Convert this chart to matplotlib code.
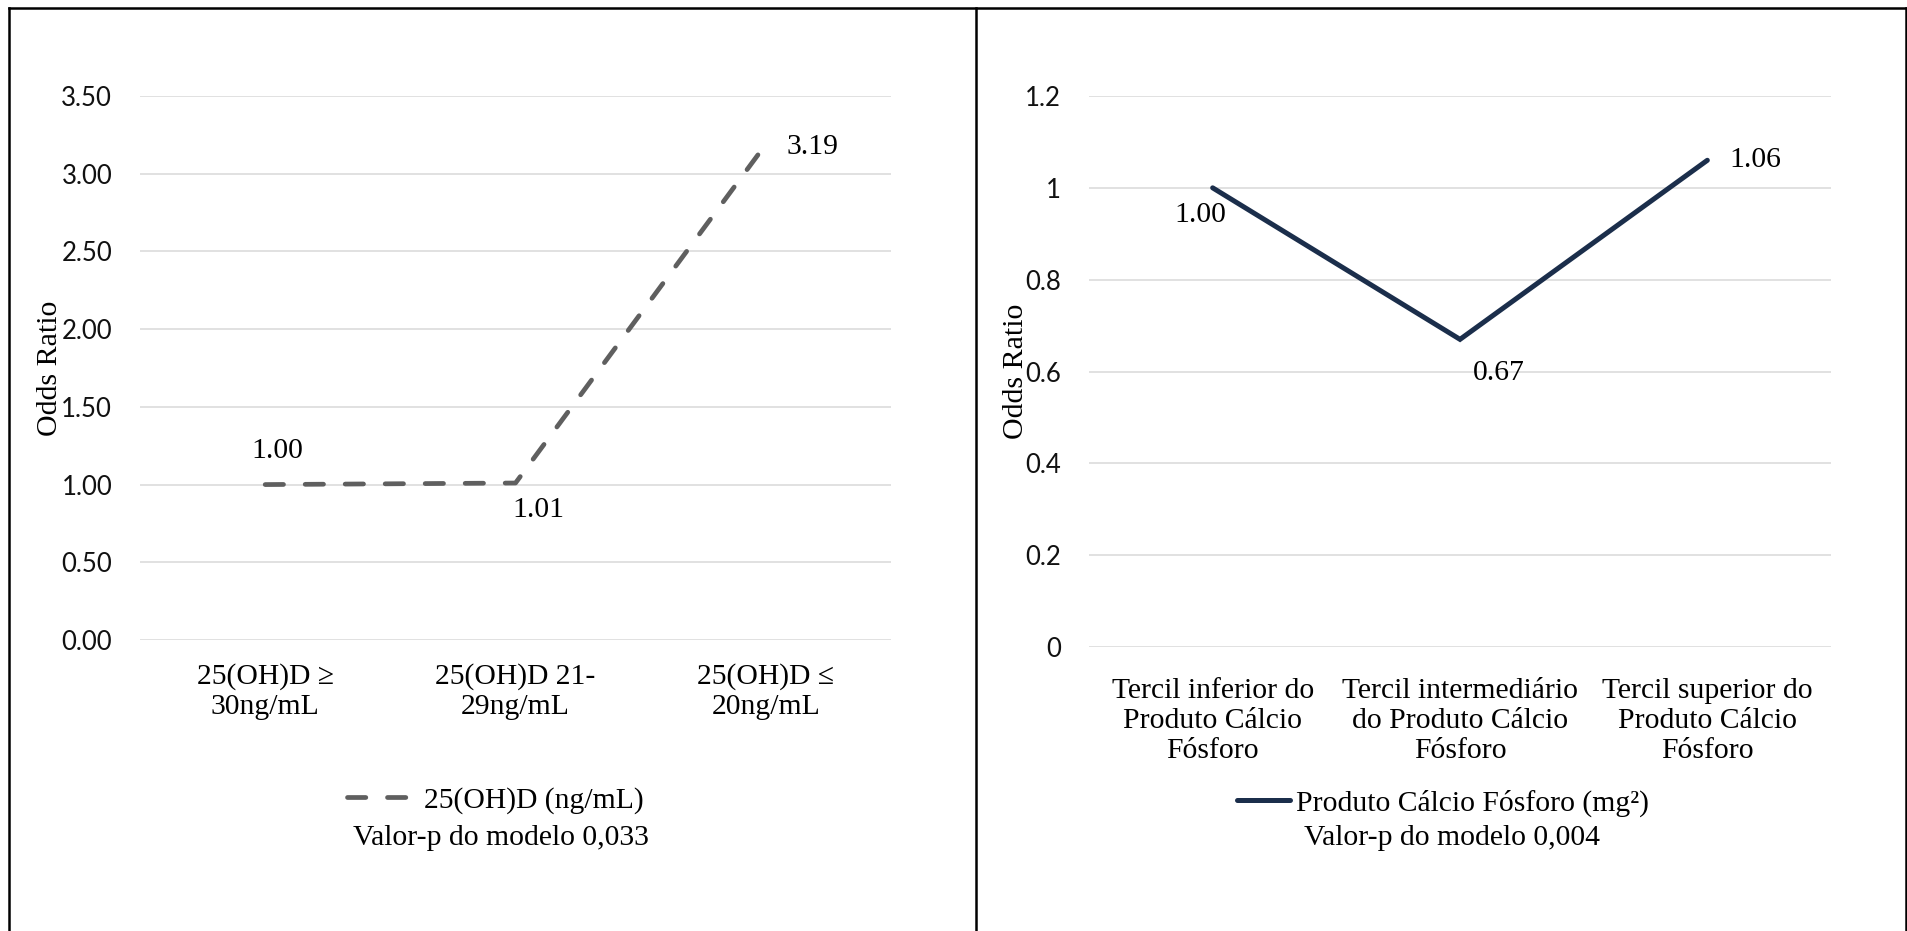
import matplotlib
matplotlib.use("Agg")
import matplotlib.pyplot as plt
from matplotlib.lines import Line2D
from matplotlib.ticker import FixedLocator, FuncFormatter

# ---------------- data ----------------
left_categories = ["25(OH)D \u2265\n30ng/mL", "25(OH)D 21-\n29ng/mL", "25(OH)D \u2264\n20ng/mL"]
left_values = [1.00, 1.01, 3.19]
left_labels = ["1.00", "1.01", "3.19"]
left_series = "25(OH)D (ng/mL)"
left_pvalue = "Valor-p do modelo 0,033"
left_yticks = [0.0, 0.5, 1.0, 1.5, 2.0, 2.5, 3.0, 3.5]

right_categories = ["Tercil inferior do\nProduto C\u00e1lcio\nF\u00f3sforo",
                    "Tercil intermedi\u00e1rio\ndo Produto C\u00e1lcio\nF\u00f3sforo",
                    "Tercil superior do\nProduto C\u00e1lcio\nF\u00f3sforo"]
right_values = [1.00, 0.67, 1.06]
right_labels = ["1.00", "0.67", "1.06"]
right_series = "Produto C\u00e1lcio F\u00f3sforo (mg\u00b2)"
right_pvalue = "Valor-p do modelo 0,004"
right_yticks = [0, 0.2, 0.4, 0.6, 0.8, 1.0, 1.2]

y_title = "Odds Ratio"

# ---------------- style ----------------
plt.rcParams['lines.scale_dashes'] = False
W, H = 1908, 931
DPI = 100
SERIF = ['Liberation Serif', 'DejaVu Serif']
SANS = ['Lato', 'DejaVu Sans']
GRID = '#d9d9d9'
GRAY = '#5f5f5f'
NAVY = '#1b2e4b'
FS = 21.3

fig = plt.figure(figsize=(W / DPI, H / DPI), dpi=DPI)
fig.patch.set_facecolor('white')


def px_ax(x0, x1, ytop, ybot):
    return fig.add_axes([x0 / W, 1 - ybot / H, (x1 - x0) / W, (ybot - ytop) / H])


def style_axes(ax, ticks, fmt, cats, ymax, xpad):
    ax.set_xlim(-0.5, len(cats) - 0.5)
    ax.set_ylim(0, ymax)
    ax.yaxis.set_major_locator(FixedLocator(ticks))
    ax.yaxis.set_major_formatter(FuncFormatter(fmt))
    ax.grid(axis='y', color=GRID, linewidth=1.1, zorder=0)
    ax.set_axisbelow(True)
    for s in ax.spines.values():
        s.set_visible(False)
    ax.set_xticks(range(len(cats)))
    ax.set_xticklabels(cats, family=SERIF, fontsize=FS, linespacing=1.21)
    ax.tick_params(axis='x', length=0, pad=xpad)
    ax.tick_params(axis='y', length=0, pad=20)
    for t in ax.get_yticklabels():
        t.set_family(SANS)
        t.set_fontsize(18.5)
        t.set_color('#111111')


# ---------------- left chart ----------------
axL = px_ax(140, 891, 96, 640)
style_axes(axL, left_yticks, lambda v, p: f"{v:.2f}", left_categories, 3.5, 16.5)
xs = list(range(len(left_values)))
lineL, = axL.plot(xs, left_values, color=GRAY, linewidth=3.4, dashes=(13.2, 15.6),
                  dash_capstyle='round', solid_capstyle='round', zorder=3)
offL = [(12, 34), (23, -27), (47, -3)]
for x, v, lab, off in zip(xs, left_values, left_labels, offL):
    axL.annotate(lab, (x, v), xytext=off, textcoords='offset pixels',
                 ha='center', va='center', family=SERIF, fontsize=FS)
axL.text((50 - 140) / 751, 0.5, y_title, transform=axL.transAxes, rotation=90,
         ha='center', va='center', family=SERIF, fontsize=21.5)
axL.legend([lineL], [left_series], loc='center left',
           bbox_to_anchor=(347 / W, 1 - 800 / H), bbox_transform=fig.transFigure,
           frameon=False, borderpad=0, borderaxespad=0, handlelength=2.1,
           handletextpad=0.5, prop={'family': SERIF, 'size': FS})
fig.text(501 / W, 1 - 838 / H, left_pvalue, ha='center', va='center',
         family=SERIF, fontsize=FS)

# ---------------- right chart ----------------
axR = px_ax(1089, 1831, 96, 647)
style_axes(axR, right_yticks, lambda v, p: f"{v:g}", right_categories, 1.2, 22)
xs = list(range(len(right_values)))
lineR, = axR.plot(xs, right_values, color=NAVY, linewidth=3.6,
                  solid_capstyle='round', solid_joinstyle='miter', zorder=3)
offR = [(-12, -27), (39, -34), (48, 0)]
for x, v, lab, off in zip(xs, right_values, right_labels, offR):
    axR.annotate(lab, (x, v), xytext=off, textcoords='offset pixels',
                 ha='center', va='center', family=SERIF, fontsize=FS)
axR.text((1016 - 1089) / 742, 0.5, y_title, transform=axR.transAxes, rotation=90,
         ha='center', va='center', family=SERIF, fontsize=21.5)
axR.legend([lineR], [right_series], loc='center left',
           bbox_to_anchor=(1237 / W, 1 - 803 / H), bbox_transform=fig.transFigure,
           frameon=False, borderpad=0, borderaxespad=0, handlelength=1.8,
           handletextpad=0.2, prop={'family': SERIF, 'size': FS})
fig.text(1452 / W, 1 - 838 / H, right_pvalue, ha='center', va='center',
         family=SERIF, fontsize=FS)

# ---------------- outer frame ----------------
frame_kw = dict(color='black', linewidth=1.8, transform=fig.transFigure)
top = 1 - 7.5 / H
for xa, xb, ya, yb in [(9, 1906, top, top), (9, 9, top, 0), (976, 976, top, 0),
                       (1906, 1906, top, 0)]:
    fig.add_artist(Line2D([xa / W, xb / W], [ya, yb], **frame_kw))

fig.savefig("out.png", dpi=DPI, facecolor='white')
